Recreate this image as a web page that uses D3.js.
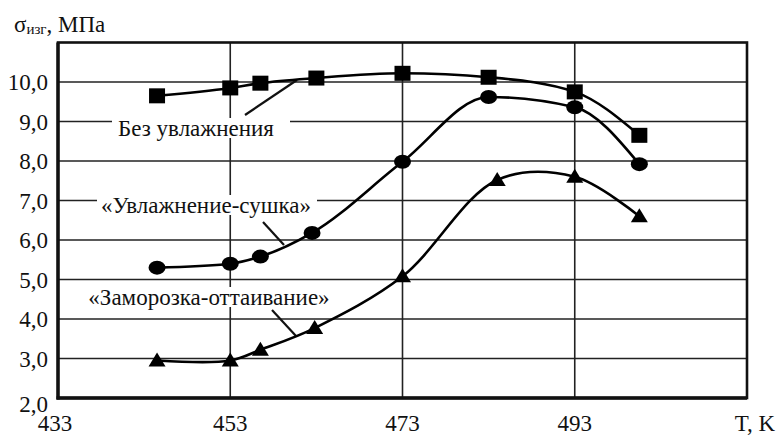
<!DOCTYPE html>
<html><head><meta charset="utf-8">
<script src="https://cdn.jsdelivr.net/npm/d3@7"></script>
<style>body{margin:0;background:#fff}svg{display:block}</style>
</head><body>
<svg id="c" width="780" height="435"></svg>
<script>
// Data
const xTicks = [433, 453, 473, 493];
const yTicks = [2, 3, 4, 5, 6, 7, 8, 9, 10];
const seriesNames = ["Без увлажнения", "«Увлажнение-сушка»", "«Заморозка-оттаивание»"];
const tempSquare = [444.5, 453, 456.5, 463, 473, 483, 493, 500.5];
const valSquare  = [9.65, 9.85, 9.97, 10.1, 10.22, 10.12, 9.75, 8.65];
const tempCircle = [444.5, 453, 456.5, 462.5, 473, 483, 493, 500.5];
const valCircle  = [5.3, 5.4, 5.58, 6.18, 7.98, 9.62, 9.36, 7.92];
const tempTri    = [444.5, 453, 456.5, 462.8, 473, 484, 493, 500.5];
const valTri     = [2.95, 2.95, 3.22, 3.77, 5.08, 7.52, 7.6, 6.6];

const svg = d3.select("#c");
const x = d3.scaleLinear().domain([433, 513]).range([58, 747]);
const y = d3.scaleLinear().domain([2, 11]).range([398, 42.5]);

// grid
const g = svg.append("g");
g.selectAll(".hg").data(yTicks.slice(1)).enter().append("line")
  .attr("x1", x(433)).attr("x2", x(513)).attr("y1", d => y(d)).attr("y2", d => y(d))
  .attr("stroke", "#222").attr("stroke-width", 1.6);
g.selectAll(".vg").data(xTicks.slice(1)).enter().append("line")
  .attr("y1", y(2)).attr("y2", y(11)).attr("x1", d => x(d)).attr("x2", d => x(d))
  .attr("stroke", "#222").attr("stroke-width", 1.6);

// frame
svg.append("rect").attr("x", x(433)).attr("y", y(11)).attr("width", x(513) - x(433)).attr("height", y(2) - y(11))
  .attr("fill", "none").attr("stroke", "#111").attr("stroke-width", 2.6);
svg.append("line").attr("x1", x(433)).attr("x2", x(433)).attr("y1", y(11)).attr("y2", y(2) + 1.5).attr("stroke", "#111").attr("stroke-width", 3.4);
svg.append("line").attr("x1", x(433) - 1.5).attr("x2", x(513)).attr("y1", y(2)).attr("y2", y(2)).attr("stroke", "#111").attr("stroke-width", 3.4);

// label backgrounds and leaders
const labelBoxes = [[112, 178, 128], [97, 220, 205], [83, 252, 297]];
const leaders = [[245, 115, 297, 80], [263, 222, 284, 245], [272, 310, 296, 336]];
labelBoxes.forEach((b, i) => {
  svg.append("rect").attr("x", b[0]).attr("y", b[2] - 10).attr("width", b[1]).attr("height", 20).attr("fill", "#fff");
  const l = leaders[i];
  svg.append("line").attr("x1", l[0]).attr("y1", l[1]).attr("x2", l[2]).attr("y2", l[3])
    .attr("stroke", "#111").attr("stroke-width", 2.2);
});

// curves
const lineM = d3.line().x(d => x(d[0])).y(d => y(d[1])).curve(d3.curveMonotoneX);
const lineC = d3.line().x(d => x(d[0])).y(d => y(d[1])).curve(d3.curveCatmullRom.alpha(0.5));
const sq = d3.zip(tempSquare, valSquare), ci = d3.zip(tempCircle, valCircle), tr = d3.zip(tempTri, valTri);
[[sq, lineM], [ci, lineM], [tr, lineC]].forEach(([s, ln]) => svg.append("path").attr("d", ln(s)).attr("fill", "none").attr("stroke", "#000").attr("stroke-width", 2.6));

// markers
svg.selectAll(".sq").data(sq).enter().append("rect")
  .attr("x", d => x(d[0]) - 8).attr("y", d => y(d[1]) - 7.5).attr("width", 16).attr("height", 15).attr("fill", "#000");
svg.selectAll(".ci").data(ci).enter().append("ellipse")
  .attr("cx", d => x(d[0])).attr("cy", d => y(d[1])).attr("rx", 8.5).attr("ry", 7).attr("fill", "#000");
svg.selectAll(".tr").data(tr).enter().append("path")
  .attr("d", d => { const cx = x(d[0]), cy = y(d[1]); return `M${cx - 8.5},${cy + 6}L${cx + 8.5},${cy + 6}L${cx},${cy - 8}Z`; })
  .attr("fill", "#000");

// all text in one serif group
const T = svg.append("g").attr("font-family", "Liberation Serif, Times New Roman, serif")
  .style("font-family", "serif").attr("font-size", 23).attr("fill", "#111");
const labelX = [196, 206, 209];
T.selectAll(".lab").data(seriesNames).enter().append("text")
  .style("font-family", d => "serif")
  .attr("x", (d, i) => labelX[i]).attr("y", (d, i) => labelBoxes[i][2] + 8).attr("text-anchor", "middle")
  .text(d => d);
T.selectAll(".yl").data(yTicks).enter().append("text")
  .style("font-family", d => "serif")
  .attr("x", 48).attr("y", d => y(d) + (d === 2 ? 14 : 8)).attr("text-anchor", "end")
  .text(d => d.toFixed(1).replace(".", ","));
T.selectAll(".xl").data(xTicks).enter().append("text")
  .style("font-family", d => "serif")
  .attr("x", d => x(d) - (d === 433 ? 3 : 0)).attr("y", 431).attr("text-anchor", "middle")
  .text(d => d);
T.append("text").style("font-family", "serif").attr("x", 755).attr("y", 431).attr("text-anchor", "middle").text("T, K");
const t = T.append("text").style("font-family", "serif").attr("x", 14).attr("y", 32);
t.append("tspan").text("σ");
t.append("tspan").attr("font-size", 15).attr("dy", 2).text("изг");
t.append("tspan").attr("dy", -2).text(", МПа");
</script>
</body></html>
